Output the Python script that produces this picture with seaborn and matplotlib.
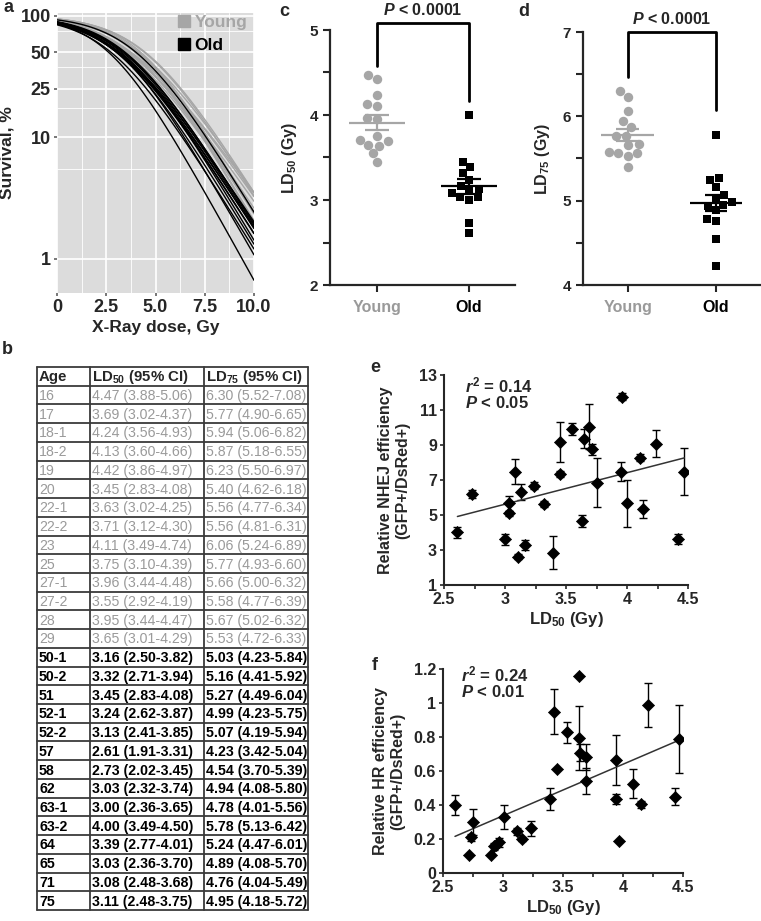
import numpy as np
import pandas as pd
import matplotlib
matplotlib.use("Agg")
import matplotlib.pyplot as plt
from matplotlib.ticker import FixedLocator, NullFormatter
from matplotlib.lines import Line2D
import seaborn as sns

# Tabela (painel b): idade, LD50 e LD75 com IC 95%
ages = ["16", "17", "18-1", "18-2", "19", "20", "22-1", "22-2", "23", "25", "27-1", "27-2", "28", "29",
        "50-1", "50-2", "51", "52-1", "52-2", "57", "58", "62", "63-1", "63-2", "64", "65", "71", "75"]
groups = ["Young"] * 14 + ["Old"] * 14
ld50 = [4.47, 3.69, 4.24, 4.13, 4.42, 3.45, 3.63, 3.71, 4.11, 3.75, 3.96, 3.55, 3.95, 3.65,
        3.16, 3.32, 3.45, 3.24, 3.13, 2.61, 2.73, 3.03, 3.00, 4.00, 3.39, 3.03, 3.08, 3.11]
ld50_lo = [3.88, 3.02, 3.56, 3.60, 3.86, 2.83, 3.02, 3.12, 3.49, 3.10, 3.44, 2.92, 3.44, 3.01,
           2.50, 2.71, 2.83, 2.62, 2.41, 1.91, 2.02, 2.32, 2.36, 3.49, 2.77, 2.36, 2.48, 2.48]
ld50_hi = [5.06, 4.37, 4.93, 4.66, 4.97, 4.08, 4.25, 4.30, 4.74, 4.39, 4.48, 4.19, 4.47, 4.29,
           3.82, 3.94, 4.08, 3.87, 3.85, 3.31, 3.45, 3.74, 3.65, 4.50, 4.01, 3.70, 3.68, 3.75]
ld75 = [6.30, 5.77, 5.94, 5.87, 6.23, 5.40, 5.56, 5.56, 6.06, 5.77, 5.66, 5.58, 5.67, 5.53,
        5.03, 5.16, 5.27, 4.99, 5.07, 4.23, 4.54, 4.94, 4.78, 5.78, 5.24, 4.89, 4.76, 4.95]
ld75_lo = [5.52, 4.90, 5.06, 5.18, 5.50, 4.62, 4.77, 4.81, 5.24, 4.93, 5.00, 4.77, 5.02, 4.72,
           4.23, 4.41, 4.49, 4.23, 4.19, 3.42, 3.70, 4.08, 4.01, 5.13, 4.47, 4.08, 4.04, 4.18]
ld75_hi = [7.08, 6.65, 6.82, 6.55, 6.97, 6.18, 6.34, 6.31, 6.89, 6.60, 6.32, 6.39, 6.32, 6.33,
           5.84, 5.92, 6.04, 5.75, 5.94, 5.04, 5.39, 5.80, 5.56, 6.42, 6.01, 5.70, 5.49, 5.72]

# Painel e: NHEJ vs LD50
nhej_x = [2.61, 2.73, 3.00, 3.03, 3.03, 3.08, 3.11, 3.13, 3.16, 3.24, 3.32, 3.39, 3.45, 3.45,
          3.55, 3.63, 3.65, 3.69, 3.71, 3.75, 3.95, 3.96, 4.00, 4.11, 4.13, 4.24, 4.42, 4.47]
nhej_y = [4.0, 6.2, 3.61, 5.1, 5.67, 7.48, 2.62, 6.33, 3.29, 6.68, 5.63, 2.85, 7.34, 9.19,
          9.9, 4.66, 9.37, 10.05, 8.75, 6.85, 7.48, 11.76, 5.67, 8.28, 5.32, 9.06, 3.63, 7.48]
nhej_err = [0.3, 0.25, 0.3, 0.15, 0.43, 0.7, 0.15, 0.45, 0.3, 0.2, 0.15, 0.95, 0.15, 1.14,
            0.35, 0.35, 0.55, 1.3, 0.3, 1.4, 0.55, 0.2, 1.33, 0.2, 0.52, 0.77, 0.3, 1.35]

# Painel f: HR vs LD50
hr_x = [2.60, 2.72, 2.73, 2.75, 2.90, 2.925, 2.94, 2.97, 3.01, 3.12, 3.16, 3.23, 3.39, 3.425, 3.45,
        3.536, 3.633, 3.633, 3.64, 3.69, 3.69, 3.94, 3.944, 3.97, 4.08, 4.15, 4.21, 4.43, 4.47]
hr_y = [0.40, 0.104, 0.21, 0.30, 0.104, 0.157, 0.165, 0.18, 0.33, 0.245, 0.20, 0.263, 0.435, 0.95, 0.61,
        0.827, 1.157, 0.794, 0.706, 0.682, 0.54, 0.663, 0.435, 0.19, 0.524, 0.405, 0.99, 0.45, 0.788]
hr_err = [0.06, 0, 0.02, 0.075, 0, 0.02, 0, 0.025, 0.07, 0.02, 0.01, 0.045, 0.065, 0.13, 0,
          0.06, 0, 0.19, 0.05, 0.076, 0.077, 0.146, 0.03, 0, 0.085, 0.02, 0.13, 0.05, 0.2]

GRAY = "#a6a6a6"
TXT_GRAY = "#9a9a9a"
pal = {"Young": GRAY, "Old": "black"}

sns.set_theme(style="ticks")
plt.rcParams["font.family"] = ["Liberation Sans", "DejaVu Sans"]
plt.rcParams["mathtext.fontset"] = "custom"
plt.rcParams["mathtext.rm"] = "Liberation Sans"
plt.rcParams["mathtext.it"] = "Liberation Sans:italic:bold"
plt.rcParams["mathtext.bf"] = "Liberation Sans:bold"

W, H = 761, 921
fig = plt.figure(figsize=(W / 100, H / 100), dpi=100)


def px_axes(left, top, right, bottom):
    return fig.add_axes([left / W, 1 - bottom / H, (right - left) / W, (bottom - top) / H])


# ---- painel a: curvas de sobrevivência (modelo logístico ajustado a LD50/LD75 da tabela)
dose = np.linspace(0, 10, 101)
rows = []
for age, g, l50, l75 in zip(ages, groups, ld50, ld75):
    k = np.log(3) / (l75 - l50)
    surv = 100 / (1 + np.exp(k * (dose - l50)))
    rows.append(pd.DataFrame({"dose": dose, "surv": surv, "amostra": age, "grupo": g}))
df_curvas = pd.concat(rows)

ax = px_axes(57, 13, 254, 293)
ax.set_facecolor("#dcdcdc")
sns.lineplot(data=df_curvas, x="dose", y="surv", hue="grupo", units="amostra", estimator=None,
             palette=pal, hue_order=["Young", "Old"], lw=1.0, legend=False, ax=ax)
ax.set_yscale("log")
ax.set_xlim(0, 10)
ax.set_ylim(0.52, 105)
ax.set_yticks([1, 10, 25, 50, 100])
ax.set_yticklabels(["1", "10", "25", "50", "100"])
ax.yaxis.set_minor_locator(FixedLocator([5.5, 17.5, 37.5, 75]))
ax.yaxis.set_minor_formatter(NullFormatter())
ax.set_xticks([0, 2.5, 5, 7.5, 10])
ax.set_xticklabels(["0", "2.5", "5.0", "7.5", "10.0"])
ax.xaxis.set_minor_locator(FixedLocator([1.25, 3.75, 6.25, 8.75]))
ax.grid(which="major", color="white", lw=1.2)
ax.grid(which="minor", color="white", lw=0.6)
ax.set_axisbelow(True)
for s in ax.spines.values():
    s.set_visible(False)
ax.tick_params(which="major", length=2.5, color="#666666", pad=2, labelsize=13)
ax.tick_params(which="minor", length=0)
for t in ax.get_xticklabels() + ax.get_yticklabels():
    t.set_fontweight("bold")
ax.set_xlabel("X-Ray dose, Gy", fontsize=12.5, fontweight="bold", labelpad=3)
ax.set_ylabel("Survival, %", fontsize=12.5, fontweight="bold", labelpad=4)
handles = [Line2D([], [], ls="", marker="s", ms=9, color=pal[g]) for g in ["Young", "Old"]]
leg = ax.legend(handles, ["Young", "Old"], loc="upper right", frameon=False, handlelength=0.6,
                handletextpad=0.3, borderaxespad=0.2, labelspacing=0.45,
                prop={"weight": "bold", "size": 12.5}, bbox_to_anchor=(1.02, 1.03))
for txt, g in zip(leg.get_texts(), ["Young", "Old"]):
    txt.set_color(pal[g])


# ---- paineis c e d: dispersão com média ± EPM
def painel_ld(ax, valores, ylim, yticks, minors, ylabel, bracket):
    df = pd.DataFrame({"grupo": groups, "valor": valores})
    sns.swarmplot(data=df[df.grupo == "Young"], x="grupo", y="valor", order=["Young", "Old"],
                  color=GRAY, marker="o", size=6.8, ax=ax)
    sns.swarmplot(data=df[df.grupo == "Old"], x="grupo", y="valor", order=["Young", "Old"],
                  color="black", marker="s", size=6.2, ax=ax)
    for i, g in enumerate(["Young", "Old"]):
        v = df.loc[df.grupo == g, "valor"].to_numpy()
        m = v.mean()
        sem = v.std(ddof=1) / np.sqrt(len(v))
        ax.hlines(m, i - 0.3, i + 0.3, color=pal[g], lw=1.6, zorder=4)
        ax.hlines([m - sem, m + sem], i - 0.13, i + 0.13, color=pal[g], lw=1.6, zorder=4)
        ax.vlines(i, m - sem, m + sem, color=pal[g], lw=1.6, zorder=4)
    ax.set_xlim(-0.51, 1.5)
    ax.set_ylim(*ylim)
    ax.set_yticks(yticks)
    ax.yaxis.set_minor_locator(FixedLocator(minors))
    sns.despine(ax=ax)
    for s in ["left", "bottom"]:
        ax.spines[s].set_linewidth(1.6)
    ax.tick_params(which="both", length=5, width=1.5, labelsize=11)
    ax.tick_params(axis="x", pad=6, labelsize=11.5)
    for t in ax.get_yticklabels():
        t.set_fontweight("bold")
    for t, g in zip(ax.get_xticklabels(), ["Young", "Old"]):
        t.set_fontweight("bold")
        t.set_color(TXT_GRAY if g == "Young" else "black")
    ax.set_xlabel("")
    ax.set_ylabel(ylabel, fontsize=11.5, fontweight="bold", labelpad=8)
    y0, ytop, y1 = bracket
    ax.plot([0, 0, 1, 1], [y0, ytop, ytop, y1], color="black", lw=2, clip_on=False)
    ax.text(0.5, ytop + 0.02 * (ylim[1] - ylim[0]), r"$\mathit{P}$ < 0.0001", ha="center",
            va="bottom", fontsize=11.5, fontweight="bold")


ax_c = px_axes(330, 30, 515, 285)
painel_ld(ax_c, ld50, (2, 5), [2, 3, 4, 5], [2.5, 3.5, 4.5], r"LD$_{\mathbf{50}}$ (Gy)", (4.58, 5.08, 4.17))
ax_d = px_axes(583, 32, 760, 285)
painel_ld(ax_d, ld75, (4, 7), [4, 5, 6, 7], [4.5, 5.5, 6.5], r"LD$_{\mathbf{75}}$ (Gy)", (6.47, 7.0, 6.07))

# ---- painel b: tabela
ax_t = px_axes(37, 367, 308, 910)
ax_t.set_xlim(0, 271)
ax_t.set_ylim(29, 0)
ax_t.axis("off")
cols = [0, 53, 167, 271]
line_c = "#3a3a3a"
for r in range(30):
    ax_t.plot([0, 271], [r, r], color=line_c, lw=1.3, clip_on=False)
for c in cols:
    ax_t.plot([c, c], [0, 29], color=line_c, lw=1.3, clip_on=False)
headers = ["Age", r"LD$_{\mathbf{50}}$ (95% CI)", r"LD$_{\mathbf{75}}$ (95% CI)"]
for c, h in zip(cols[:3], headers):
    ax_t.text(c + 2, 0.55, h, va="center", ha="left", fontsize=10.8, fontweight="bold")
for r, (age, g) in enumerate(zip(ages, groups), start=1):
    cor = TXT_GRAY if g == "Young" else "black"
    fw = "normal" if g == "Young" else "bold"
    i = r - 1
    vals = [age,
            f"{ld50[i]:.2f} ({ld50_lo[i]:.2f}-{ld50_hi[i]:.2f})",
            f"{ld75[i]:.2f} ({ld75_lo[i]:.2f}-{ld75_hi[i]:.2f})"]
    for c, v in zip(cols[:3], vals):
        ax_t.text(c + 2, r + 0.55, v, va="center", ha="left", fontsize=10.2, color=cor, fontweight=fw)


# ---- paineis e e f: correlação com LD50
def painel_corr(ax, x, y, err, ylim, yticks, ylabels, ylabel, stats, tpos):
    ax.errorbar(x, y, yerr=err, fmt="none", ecolor="black", elinewidth=1, capsize=3, capthick=1, zorder=2)
    sns.scatterplot(x=x, y=y, marker="D", color="black", edgecolor="black", s=38, zorder=3, ax=ax)
    sns.regplot(x=x, y=y, scatter=False, ci=None, color="#333333", line_kws={"lw": 1.1}, ax=ax)
    ax.set_xlim(2.5, 4.5)
    ax.set_ylim(*ylim)
    ax.set_xticks([2.5, 3, 3.5, 4, 4.5])
    ax.set_xticklabels(["2.5", "3", "3.5", "4", "4.5"])
    ax.xaxis.set_minor_locator(FixedLocator([2.75, 3.25, 3.75, 4.25]))
    ax.set_yticks(yticks)
    ax.set_yticklabels(ylabels)
    sns.despine(ax=ax)
    for s in ["left", "bottom"]:
        ax.spines[s].set_linewidth(1.5)
    ax.tick_params(which="both", length=3, width=1.2, labelsize=11.5, pad=2)
    for t in ax.get_xticklabels() + ax.get_yticklabels():
        t.set_fontweight("bold")
    ax.set_xlabel(r"LD$_{\mathbf{50}}$ (Gy)", fontsize=12, fontweight="bold", labelpad=2)
    ax.set_ylabel(ylabel, fontsize=11.5, fontweight="bold", labelpad=6, linespacing=1.2)
    tx, ty1, ty2 = tpos
    ax.text(tx, ty1, r"$\mathit{r}^{\mathbf{2}}$ = " + stats[0], transform=ax.transAxes,
            fontsize=12, fontweight="bold", va="center")
    ax.text(tx, ty2, r"$\mathit{P}$ < " + stats[1], transform=ax.transAxes,
            fontsize=12, fontweight="bold", va="center")


ax_e = px_axes(444, 375, 688, 585)
painel_corr(ax_e, nhej_x, nhej_y, nhej_err, (1, 13), list(range(1, 14, 2)),
            [str(v) for v in range(1, 14, 2)], "Relative NHEJ efficiency\n(GFP+/DsRed+)", ("0.14", "0.05"),
            (0.085, 0.95, 0.865))
ax_f = px_axes(443, 669, 683, 873)
painel_corr(ax_f, hr_x, hr_y, hr_err, (0, 1.2), [0, 0.2, 0.4, 0.6, 0.8, 1.0, 1.2],
            ["0", "0.2", "0.4", "0.6", "0.8", "1", "1.2"], "Relative HR efficiency\n(GFP+/DsRed+)",
            ("0.24", "0.01"), (0.075, 0.975, 0.885))

# letras dos painéis
for letra, x, y in [("a", 8, 8), ("c", 284, 12), ("d", 524, 12), ("b", 7, 350), ("e", 375, 368), ("f", 375, 665)]:
    fig.text(x / W, 1 - y / H, letra, fontsize=13, fontweight="bold", ha="center", va="center")

fig.savefig("out.png", dpi=100)
